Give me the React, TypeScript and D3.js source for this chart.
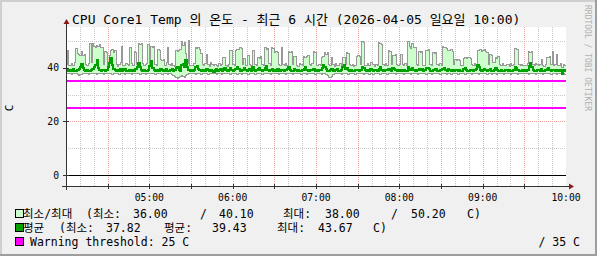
import React from "react";
import * as d3 from "d3";

// ---- data (1-minute steps, 04:00 -> 10:00; one line per half hour) ----
const maxVals: number[] = [
  41.2, 46.7, 41.0, 40.8, 41.5, 41.1, 42.0, 47.4, 45.3, 45.0, 44.6, 46.3, 44.8, 45.1, 41.4, 40.9, 41.6, 49.3, 42.0, 49.0, 48.1, 47.8, 48.4, 47.9, 48.6, 47.5, 47.8, 41.3, 46.0, 45.7,
  41.0, 44.5, 46.5, 46.8, 45.9, 46.7, 41.2, 40.7, 41.4, 42.0, 48.0, 41.1, 40.9, 41.7, 41.3, 40.8, 47.8, 41.5, 41.0, 46.0, 45.8, 41.4, 49.3, 48.7, 49.0, 41.6, 40.9, 41.3, 41.8, 48.6,
  41.3, 48.2, 47.8, 48.0, 41.2, 40.8, 47.0, 46.6, 43.0, 42.8, 43.1, 41.0, 42.2, 47.5, 41.4, 40.9, 41.6, 41.1, 40.7, 46.7, 46.2, 46.5, 46.9, 49.7, 48.5, 49.4, 45.5, 41.5, 50.2, 41.0,
  41.1, 40.8, 41.6, 47.5, 47.2, 47.8, 47.0, 45.5, 41.3, 40.9, 41.7, 45.0, 41.2, 40.6, 42.0, 41.4, 40.8, 41.3, 41.0, 40.7, 41.5, 40.9, 41.2, 44.0, 43.8, 41.1, 40.6, 41.4, 46.7, 46.4,
  41.2, 40.9, 46.5, 47.0, 46.8, 47.5, 47.2, 41.3, 43.7, 41.0, 40.8, 44.5, 41.4, 41.1, 46.7, 46.5, 41.2, 40.9, 44.0, 43.6, 44.2, 41.3, 41.0, 47.5, 46.9, 47.3, 41.5, 40.8, 47.5, 47.2,
  45.8, 46.2, 45.6, 41.2, 40.9, 47.5, 41.3, 40.8, 41.6, 41.1, 46.0, 45.7, 46.1, 41.4, 44.4, 44.1, 41.0, 40.7, 41.5, 41.2, 40.9, 44.4, 43.9, 44.2, 44.6, 41.3, 40.8, 41.5, 46.0, 45.8,
  41.1, 40.8, 41.4, 41.0, 44.0, 44.3, 45.6, 45.2, 45.6, 41.3, 40.9, 44.0, 41.2, 40.7, 41.5, 41.1, 40.8, 41.6, 41.0, 44.0, 43.8, 41.2, 45.6, 45.3, 41.4, 40.9, 41.3, 40.6, 41.0, 44.4,
  44.6, 44.2, 41.3, 49.8, 49.4, 41.1, 40.8, 41.5, 41.0, 42.0, 41.9, 41.3, 40.7, 41.4, 41.1, 49.5, 49.2, 48.9, 41.2, 40.9, 41.6, 41.0, 46.7, 46.3, 41.2, 44.8, 44.5, 44.9, 41.3, 40.8,
  41.2, 45.0, 41.3, 40.9, 41.6, 41.0, 49.9, 48.0, 47.1, 49.0, 47.8, 47.5, 41.4, 40.8, 46.0, 45.7, 46.2, 41.1, 40.9, 46.7, 46.4, 46.9, 41.2, 40.8, 45.6, 45.3, 45.8, 41.3, 41.0, 41.5,
  41.1, 47.9, 47.5, 47.8, 47.3, 46.7, 46.4, 46.8, 46.2, 41.2, 43.0, 42.7, 43.2, 42.9, 41.0, 40.8, 43.7, 44.0, 43.6, 43.9, 43.8, 43.5, 41.3, 40.9, 41.5, 41.1, 46.7, 46.5, 46.8, 46.3,
  46.5, 46.8, 46.2, 45.6, 41.2, 45.0, 44.8, 42.0, 42.1, 44.0, 43.7, 44.1, 41.3, 40.9, 41.6, 41.0, 40.8, 41.4, 41.2, 40.7, 41.5, 41.0, 41.3, 47.1, 46.8, 47.0, 41.2, 40.8, 41.4, 41.0,
  41.1, 40.8, 41.5, 46.2, 45.9, 46.0, 41.3, 40.9, 41.6, 41.2, 40.8, 41.4, 43.0, 41.1, 40.7, 41.3, 44.0, 43.8, 44.1, 41.2, 46.2, 41.0, 41.4, 45.0, 41.1, 40.8, 41.5, 40.1, 41.2, 40.9,
];
const minVals: number[] = [
  37.9, 38.0, 37.8, 37.9, 37.7, 38.0, 37.9, 37.8, 37.4, 37.3, 37.5, 37.6, 37.9, 38.0, 37.8, 37.9, 37.7, 38.0, 37.9, 37.8, 37.9, 38.0, 37.7, 37.9, 37.8, 38.0, 37.9, 37.6, 37.8, 37.9,
  38.0, 37.8, 37.9, 37.7, 37.9, 38.0, 37.8, 37.9, 37.6, 37.8, 38.0, 37.9, 37.7, 37.9, 37.8, 38.0, 37.9, 37.7, 37.8, 37.9, 38.0, 37.8, 37.9, 37.6, 37.8, 37.9, 38.0, 37.7, 37.9, 37.8,
  37.9, 38.0, 37.8, 37.9, 37.7, 37.9, 38.0, 37.8, 37.9, 37.6, 37.8, 37.9, 38.0, 37.7, 37.9, 37.8, 37.5, 37.2, 36.8, 36.3, 36.0, 36.4, 36.9, 37.3, 36.7, 36.5, 37.1, 37.6, 37.8, 37.9,
  38.0, 37.8, 37.9, 37.7, 37.9, 38.0, 37.8, 37.6, 37.9, 37.8, 38.0, 37.9, 37.7, 37.8, 37.9, 38.0, 37.8, 37.9, 37.6, 37.8, 37.9, 38.0, 37.7, 37.9, 37.8, 37.9, 38.0, 37.8, 37.7, 37.9,
  37.8, 37.9, 38.0, 37.7, 37.9, 37.8, 37.6, 37.9, 38.0, 37.8, 37.9, 37.7, 37.8, 38.0, 37.9, 37.8, 37.6, 37.9, 37.8, 38.0, 37.9, 37.7, 37.8, 37.9, 38.0, 37.8, 37.9, 37.7, 37.8, 37.9,
  38.0, 37.8, 37.9, 37.7, 37.8, 37.9, 38.0, 37.8, 37.6, 37.9, 37.8, 38.0, 37.9, 37.7, 37.8, 37.9, 38.0, 37.8, 37.9, 37.6, 37.8, 37.9, 38.0, 37.7, 37.9, 37.8, 37.9, 38.0, 37.8, 37.7,
  37.9, 37.8, 38.0, 37.9, 37.7, 37.8, 37.9, 37.6, 37.2, 36.6, 36.3, 36.8, 37.4, 37.8, 37.9, 38.0, 37.8, 37.9, 37.7, 37.8, 37.9, 38.0, 37.8, 37.6, 37.9, 37.8, 38.0, 37.9, 37.7, 37.8,
  37.9, 38.0, 37.8, 37.9, 37.7, 37.8, 37.9, 38.0, 37.6, 37.8, 37.9, 37.7, 37.8, 38.0, 37.9, 37.8, 37.6, 37.9, 37.8, 38.0, 37.9, 37.7, 37.8, 37.9, 38.0, 37.8, 37.9, 37.7, 37.8, 37.9,
  38.0, 37.8, 37.9, 37.7, 37.8, 37.9, 38.0, 37.8, 37.6, 37.9, 37.8, 38.0, 37.9, 37.7, 37.8, 37.9, 38.0, 37.8, 37.9, 37.6, 37.8, 37.9, 38.0, 37.7, 37.9, 37.8, 37.9, 38.0, 37.8, 37.7,
  37.9, 37.8, 38.0, 37.9, 37.7, 37.8, 37.9, 37.6, 37.8, 37.9, 38.0, 37.8, 37.7, 37.9, 37.8, 38.0, 37.9, 37.7, 37.8, 37.9, 38.0, 37.8, 37.6, 37.9, 37.8, 38.0, 37.9, 37.7, 37.8, 37.9,
  37.8, 37.9, 38.0, 37.7, 37.8, 37.9, 37.6, 37.8, 38.0, 37.9, 37.7, 37.8, 37.9, 38.0, 37.8, 37.6, 37.9, 37.8, 38.0, 37.9, 37.7, 37.8, 37.9, 38.0, 37.8, 37.6, 37.9, 37.8, 38.0, 37.9,
  37.9, 37.8, 38.0, 37.7, 37.8, 37.9, 38.0, 37.8, 37.6, 37.9, 37.8, 38.0, 37.9, 37.7, 37.8, 37.9, 38.0, 37.8, 37.9, 37.6, 37.8, 37.9, 38.0, 37.7, 37.9, 37.8, 37.9, 37.5, 37.8, 37.7,
];
const avgVals: number[] = [
  39.2, 38.9, 39.4, 38.8, 39.1, 39.6, 39.0, 38.8, 39.3, 39.5, 40.2, 41.5, 39.8, 39.1, 38.9, 39.4, 39.0, 38.7, 39.2, 39.6, 40.4, 41.2, 42.8, 40.1, 39.3, 38.9, 39.4, 39.1, 38.8, 39.2,
  40.3, 41.8, 43.67, 41.0, 39.6, 39.1, 38.8, 39.3, 39.0, 39.5, 38.9, 39.2, 39.7, 39.0, 38.8, 39.4, 39.1, 38.7, 39.3, 39.0, 39.6, 40.2, 41.9, 40.4, 39.2, 38.9, 39.3, 39.0, 38.8, 39.4,
  40.6, 42.6, 40.1, 39.2, 38.9, 39.4, 39.0, 38.8, 39.5, 39.1, 38.7, 39.3, 39.6, 39.0, 38.8, 39.2, 39.5, 38.9, 39.1, 40.0, 40.5, 39.4, 39.0, 41.1, 41.6, 40.2, 43.0, 40.4, 39.3, 38.9,
  39.1, 38.8, 39.4, 40.3, 40.9, 39.7, 39.2, 38.9, 39.3, 39.0, 38.7, 39.5, 39.1, 38.8, 39.4, 39.0, 38.6, 39.2, 39.5, 38.9, 39.1, 39.6, 38.8, 39.3, 40.1, 39.2, 38.9, 39.4, 40.0, 39.1,
  38.9, 39.3, 39.7, 40.4, 39.5, 39.0, 38.8, 39.4, 39.9, 39.1, 38.7, 39.2, 39.6, 39.0, 40.4, 39.3, 38.8, 39.1, 39.5, 40.1, 39.2, 38.9, 39.4, 39.8, 40.6, 39.3, 38.9, 39.2, 39.6, 39.0,
  39.3, 38.9, 39.5, 39.0, 38.7, 39.4, 39.1, 38.8, 39.3, 39.6, 40.2, 39.4, 39.0, 38.8, 39.5, 39.1, 38.9, 39.3, 39.0, 38.7, 39.2, 39.7, 40.5, 39.4, 39.0, 38.8, 39.3, 39.1, 39.6, 39.0,
  39.2, 38.9, 39.4, 39.1, 39.8, 41.1, 40.3, 39.5, 39.0, 38.8, 39.3, 39.6, 39.0, 38.7, 39.2, 39.5, 39.0, 38.8, 39.4, 40.2, 41.0, 39.6, 39.9, 39.3, 38.9, 39.2, 39.0, 38.7, 39.3, 39.1,
  39.4, 39.0, 39.3, 40.5, 39.8, 39.1, 38.8, 39.3, 39.0, 39.5, 39.2, 38.9, 39.4, 39.1, 38.7, 39.6, 40.2, 39.4, 39.0, 38.8, 39.3, 39.1, 39.7, 39.4, 39.0, 40.1, 39.5, 39.2, 38.9, 39.3,
  39.0, 39.4, 38.8, 39.2, 39.0, 38.7, 40.3, 39.6, 39.2, 39.8, 39.4, 39.0, 38.8, 39.3, 39.7, 39.1, 39.5, 38.9, 39.2, 39.8, 40.1, 39.5, 39.0, 38.8, 39.4, 39.1, 39.6, 39.0, 38.8, 39.3,
  39.2, 39.7, 40.0, 39.4, 39.0, 39.5, 39.1, 38.8, 39.3, 39.0, 39.4, 39.1, 38.7, 39.3, 39.0, 38.8, 39.5, 39.9, 39.2, 39.0, 38.9, 39.4, 39.1, 38.8, 39.3, 39.6, 41.1, 40.2, 39.4, 39.0,
  39.3, 39.6, 39.1, 38.8, 39.2, 39.5, 39.0, 38.7, 39.3, 39.8, 39.4, 39.0, 38.8, 39.2, 39.0, 38.7, 39.4, 39.1, 38.9, 39.3, 39.0, 38.8, 39.4, 40.3, 39.8, 39.3, 39.0, 38.8, 39.2, 39.0,
  39.1, 38.8, 39.4, 40.6, 41.8, 40.2, 39.3, 39.0, 38.8, 39.3, 39.1, 38.7, 39.5, 39.0, 38.8, 39.2, 39.6, 40.0, 39.4, 39.0, 39.3, 39.1, 38.8, 39.4, 39.0, 38.7, 39.2, 37.82, 39.1, 38.9,
];
const yMajorTicks: number[] = [0, 20, 40];
const yMinorTicks: number[] = [10, 30, 50];
const thresholds: number[] = [25, 35];
const titleText = "CPU Core1 Temp 의 온도 - 최근 6 시간 (2026-04-05 일요일 10:00)";
const unitLabel = "C";
const creditText = "RRDTOOL / TOBI OETIKER";
const legendRow1: [string, number][] = [
  ["최소/최대", 23], ["(최소:", 86], ["36.00", 133], ["/", 200], ["40.10", 219],
  ["최대:", 283], ["38.00", 325], ["/", 391], ["50.20", 411], ["C)", 467],
];
const legendRow2: [string, number][] = [
  ["평균", 23], ["(최소:", 59], ["37.82", 106], ["평균:", 164], ["39.43", 212],
  ["최대:", 277], ["43.67", 318], ["C)", 373],
];
const legendRow3Left = "Warning threshold: 25 C";
const legendRow3Right = "/ 35 C";

const W = 597, H = 256;
const X0 = 66, XS = 500, Y0 = 186, YS = 159;
const FONT = "'DejaVu Sans Mono', 'Noto Sans CJK KR', monospace";

export default function App() {
  const t0 = new Date(2026, 3, 5, 4, 0, 0);
  const t1 = new Date(2026, 3, 5, 10, 0, 0);
  const x = d3.scaleTime().domain([t0, t1]).range([X0, X0 + XS]);
  const y = d3.scaleLinear().domain([-4.1, 55.3]).range([Y0, Y0 - YS]);
  const step = 60 * 1000;
  const n = avgVals.length;
  const pts = d3.range(n + 1).map((i) => {
    const k = Math.min(i, n - 1);
    return { t: new Date(t0.getTime() + i * step), mn: minVals[k], mx: maxVals[k], av: avgVals[k] };
  });
  const area = d3.area<any>().curve(d3.curveStepAfter).x((d) => x(d.t)).y0((d) => y(d.mn)).y1((d) => y(d.mx));
  const lineMax = d3.line<any>().curve(d3.curveStepAfter).x((d) => x(d.t)).y((d) => y(d.mx));
  const lineMin = d3.line<any>().curve(d3.curveStepAfter).x((d) => x(d.t)).y((d) => y(d.mn));
  const lineAvg = d3.line<any>().curve(d3.curveStepAfter).x((d) => x(d.t)).y((d) => y(d.av));

  const minorX = d3.timeMinute.every(10)!.range(t0, t1).filter((d) => d.getMinutes() % 30 !== 0 && d > t0);
  const majorX = d3.timeMinute.every(30)!.range(t0, t1).filter((d) => d > t0);
  const labelX = d3.timeHour.range(new Date(t0.getTime() + 1), new Date(t1.getTime() + 1));
  const fmt = d3.timeFormat("%H:%M");

  const px = (v: number) => Math.round(v) + 0.5;
  const gridGrey = "#c8c8c8";
  const gridRed = "#f4a0a0";

  return (
    <svg width={W} height={H} style={{ position: "absolute", left: 0, top: 0 }} fontFamily={FONT}>
      <rect x={0} y={0} width={W} height={H} fill="#f0f0f0" />
      <rect x={0} y={0} width={W} height={2} fill="#cfcfcf" />
      <rect x={0} y={0} width={2} height={H} fill="#cfcfcf" />
      <rect x={0} y={H - 2} width={W} height={2} fill="#9e9e9e" />
      <rect x={W - 2} y={0} width={2} height={H} fill="#9e9e9e" />
      <rect x={X0} y={Y0 - YS} width={XS} height={YS} fill="#ffffff" />
      {yMinorTicks.map((v) => (
        <line key={"ym" + v} x1={X0} x2={X0 + XS} y1={px(y(v))} y2={px(y(v))} stroke={gridGrey} strokeDasharray="1,1" />
      ))}
      {minorX.map((d) => (
        <line key={"xm" + d.getTime()} x1={px(x(d))} x2={px(x(d))} y1={Y0 - YS} y2={Y0} stroke={gridGrey} strokeDasharray="1,1" />
      ))}
      {yMajorTicks.map((v) => (
        <line key={"yM" + v} x1={X0} x2={X0 + XS} y1={px(y(v))} y2={px(y(v))} stroke={gridRed} strokeDasharray="1,1" />
      ))}
      {majorX.map((d) => (
        <line key={"xM" + d.getTime()} x1={px(x(d))} x2={px(x(d))} y1={Y0 - YS} y2={Y0} stroke={gridRed} strokeDasharray="1,1" />
      ))}
      <path d={area(pts) || ""} fill="#ccffcc" shapeRendering="crispEdges" />
      <path d={lineMax(pts) || ""} fill="none" stroke="#999999" strokeWidth={1} shapeRendering="crispEdges" />
      <path d={lineMin(pts) || ""} fill="none" stroke="#999999" strokeWidth={1} shapeRendering="crispEdges" />
      <path d={lineAvg(pts) || ""} fill="none" stroke="#00a000" strokeWidth={2} shapeRendering="crispEdges" />
      <line x1={X0} x2={X0 + XS} y1={px(y(0))} y2={px(y(0))} stroke="#000" strokeWidth={1} />
      {thresholds.map((v) => (
        <line key={"th" + v} x1={X0} x2={X0 + XS} y1={Math.round(y(v))} y2={Math.round(y(v))} stroke="#ff00ff" strokeWidth={2} />
      ))}
      <line x1={X0 - 4} x2={X0 + XS + 4} y1={px(Y0)} y2={px(Y0)} stroke="#333" />
      <line x1={px(X0)} x2={px(X0)} y1={Y0 + 4} y2={Y0 - YS - 4} stroke="#333" />
      <path d={`M${X0 + XS + 3},${px(Y0) - 3}L${X0 + XS + 8},${px(Y0)}L${X0 + XS + 3},${px(Y0) + 3}Z`} fill="#8b1a1a" />
      <path d={`M${px(X0) - 3},${Y0 - YS - 3}L${px(X0)},${Y0 - YS - 8}L${px(X0) + 3},${Y0 - YS - 3}Z`} fill="#8b1a1a" />
      {majorX.map((d) => (
        <line key={"xt" + d.getTime()} x1={px(x(d))} x2={px(x(d))} y1={Y0 - 2} y2={Y0 + 3} stroke="#333" />
      ))}
      {yMajorTicks.map((v) => (
        <line key={"yt" + v} x1={X0 - 3} x2={X0 + 3} y1={px(y(v))} y2={px(y(v))} stroke="#333" />
      ))}
      {yMajorTicks.map((v) => (
        <text key={"yl" + v} x={59} y={y(v) + 3.5} fontSize={9.7} textAnchor="end" fill="#000">{v}</text>
      ))}
      {labelX.map((d) => (
        <text key={"xl" + d.getTime()} x={x(d)} y={201} fontSize={9.7} textAnchor="middle" fill="#000">{fmt(d)}</text>
      ))}
      <text x={72} y={24} fontSize={13} fill="#000">{titleText}</text>
      <text transform="translate(13,108) rotate(-90)" fontSize={11} textAnchor="middle" fill="#000">{unitLabel}</text>
      <text transform="translate(585,5) rotate(90)" fontSize={8} fill="#b0b0b0">{creditText}</text>
      <rect x={15.5} y={209.5} width={8} height={8} fill="#ccffcc" stroke="#000" />
      <rect x={15.5} y={223.5} width={8} height={8} fill="#00a000" stroke="#000" />
      <rect x={15.5} y={237.5} width={8} height={8} fill="#ff00ff" stroke="#000" />
      {legendRow1.map(([s, xx], i) => (
        <text key={"l1" + i} x={xx} y={217.5} fontSize={11.5} fill="#000">{s}</text>
      ))}
      {legendRow2.map(([s, xx], i) => (
        <text key={"l2" + i} x={xx} y={231.5} fontSize={11.5} fill="#000">{s}</text>
      ))}
      <text x={30} y={246} fontSize={11.5} fill="#000">{legendRow3Left}</text>
      <text x={580} y={246} fontSize={11.5} textAnchor="end" fill="#000">{legendRow3Right}</text>
    </svg>
  );
}
